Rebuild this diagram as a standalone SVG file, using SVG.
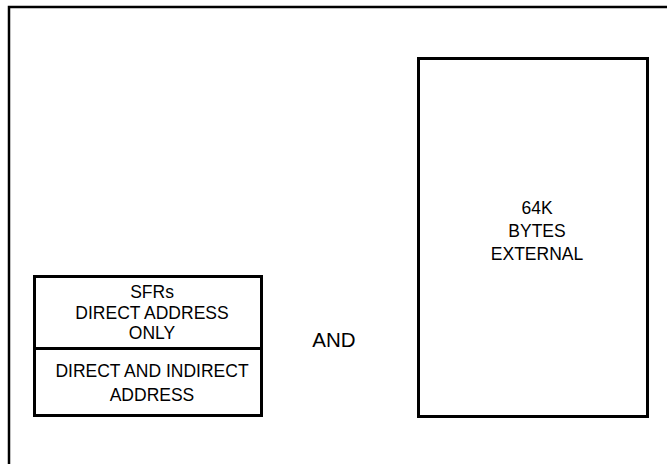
<svg xmlns="http://www.w3.org/2000/svg" width="667" height="464" viewBox="0 0 667 464">
  <style>
    .box { fill: #fff; stroke: #000; stroke-width: 3; }
    .frame { fill: #fff; stroke: #000; stroke-width: 2.5; }
    .t { font-family: "Liberation Sans", Arial, sans-serif; font-size: 17.5px; fill: #000; text-anchor: middle; }
  </style>
  <rect width="667" height="464" fill="#fff"/>
  <g id="frame">
    <rect class="frame" x="9" y="7" width="720" height="520"/>
  </g>
  <g id="internal-memory">
    <rect class="box" x="34.5" y="276.5" width="227" height="139"/>
    <line x1="34.5" y1="348.5" x2="261.5" y2="348.5" stroke="#000" stroke-width="3"/>
    <text class="t" x="152" y="298">SFRs</text>
    <text class="t" x="152" y="319">DIRECT ADDRESS</text>
    <text class="t" x="152" y="339">ONLY</text>
    <text class="t" x="152" y="377">DIRECT AND INDIRECT</text>
    <text class="t" x="152" y="401">ADDRESS</text>
  </g>
  <g id="and-label">
    <text class="t" x="334" y="347" style="font-size:20.5px">AND</text>
  </g>
  <g id="external-memory">
    <rect class="box" x="418.5" y="58.5" width="229" height="358"/>
    <text class="t" x="537" y="213.5">64K</text>
    <text class="t" x="537" y="237">BYTES</text>
    <text class="t" x="537" y="260">EXTERNAL</text>
  </g>
  <g id="connectors"></g>
</svg>
